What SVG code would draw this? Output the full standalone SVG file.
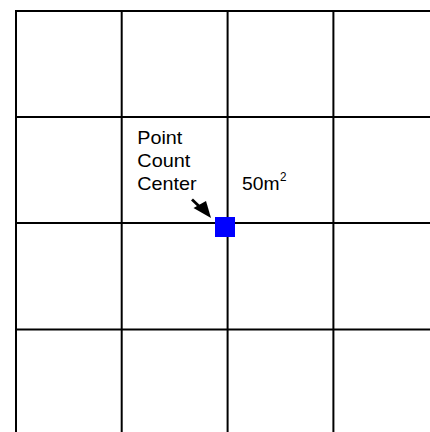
<svg xmlns="http://www.w3.org/2000/svg" width="430" height="432" viewBox="0 0 430 432">
  <style>
    .grid { stroke: #000; stroke-width: 2; fill: none; }
    .lbl { font-family: "Liberation Sans", Arial, sans-serif; font-size: 18.5px; fill: #000; }
    .sup { font-family: "Liberation Sans", Arial, sans-serif; font-size: 12.5px; fill: #000; }
  </style>
  <rect width="430" height="432" fill="#fff"/>
  <g id="grid" class="grid">
    <line x1="15" y1="11" x2="430" y2="11"/>
    <line x1="15" y1="117" x2="430" y2="117"/>
    <line x1="15" y1="223" x2="430" y2="223"/>
    <line x1="15" y1="329.5" x2="430" y2="329.5"/>
    <line x1="16" y1="10" x2="16" y2="432"/>
    <line x1="121.7" y1="10" x2="121.7" y2="432"/>
    <line x1="227.6" y1="10" x2="227.6" y2="432"/>
    <line x1="333.4" y1="10" x2="333.4" y2="432"/>
  </g>
  <g id="label-point-count-center">
    <text class="lbl" x="137.3" y="144" textLength="45" lengthAdjust="spacingAndGlyphs">Point</text>
    <text class="lbl" x="137.3" y="167" textLength="53" lengthAdjust="spacingAndGlyphs">Count</text>
    <text class="lbl" x="137.3" y="190" textLength="59.4" lengthAdjust="spacingAndGlyphs">Center</text>
  </g>
  <g id="label-area">
    <text class="lbl" x="242" y="190" textLength="37.5" lengthAdjust="spacingAndGlyphs">50m</text>
    <text class="sup" x="280" y="181" textLength="6.5" lengthAdjust="spacingAndGlyphs">2</text>
  </g>
  <g id="connectors">
    <line x1="192" y1="199.5" x2="202" y2="209" stroke="#000" stroke-width="2.8"/>
    <polygon points="211,218 193.5,208 206,201" fill="#000"/>
  </g>
  <g id="point-count-center">
    <rect x="215" y="217" width="20" height="20" fill="#0000FF"/>
  </g>
</svg>
